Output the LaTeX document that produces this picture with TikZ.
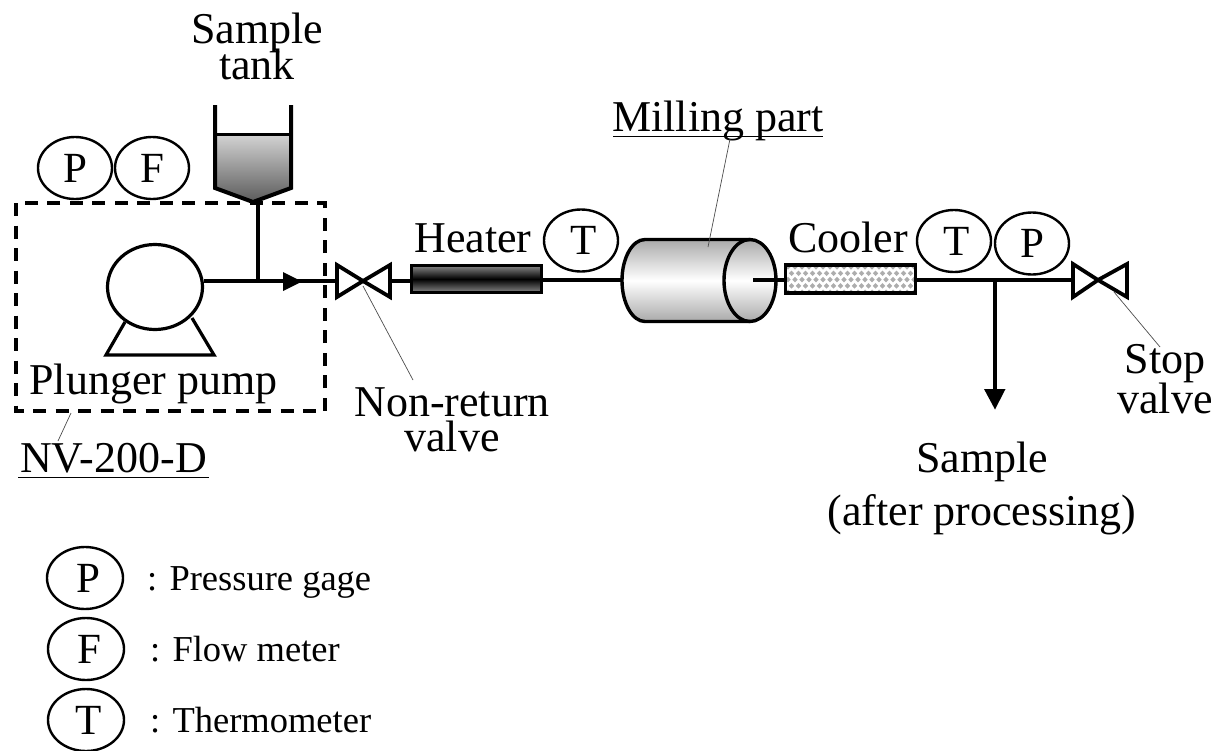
\documentclass[tikz,border=0pt]{standalone}
\usepackage{fontspec}
\setmainfont{Liberation Serif}
\usetikzlibrary{shapes.geometric,arrows.meta,calc}
\newcommand{\lowered}[1]{\raisebox{-3pt}{#1}}
\newcommand{\shifted}[1]{\kern6pt\raisebox{-3pt}{#1}}
\tikzset{
  x=1pt,y=-1pt,
  gauge/.style={draw,ellipse,line width=2.4pt,inner sep=0pt,minimum width=74pt,minimum height=62pt,font=\fontsize{43}{43}\selectfont},
  pipe/.style={line width=3.4pt},
  valveshape/.style={draw,line width=3.8pt,miter limit=10,fill=white},
  lead/.style={line width=0.7pt,draw=black!70},
  lab/.style={inner sep=0pt,align=center,font=\fontsize{44}{35}\selectfont},
  leg/.style={inner sep=0pt,anchor=base west,font=\fontsize{36.5}{36.5}\selectfont},
  unit/.style={draw,line width=3.4pt,inner sep=0pt,minimum height=27pt},
}
\begin{document}
\begin{tikzpicture}
\useasboundingbox (0,0) rectangle (1216,750);
% dashed package frame
\draw[line width=3.4pt,dash pattern=on 13pt off 9.5pt] (16,203) rectangle (325,411);
% sample tank
\shade[top color=black!17,bottom color=black!65] (213,134) -- (292,134) -- (292,188) -- (253,203) -- (213,188) -- cycle;
\draw[line width=4pt,line join=miter] (215,105) -- (215,188) -- (253,202) -- (291,188) -- (291,105);
\draw[line width=3pt] (215,134) -- (291,134);
\coordinate (tankout) at (258,202);
\coordinate (tee1) at (258,281);
\coordinate (pipeend) at (338,281);
% pump
\node[draw,ellipse,line width=3.2pt,inner sep=0pt,minimum width=95pt,minimum height=85pt] (pump) at (155,287) {};
\draw[line width=3.2pt,line join=miter] (125,322) -- (106,355) -- (214,355) -- (192,318);
\draw[pipe] (pump.east |- tee1) -- (tee1) -- (pipeend);
\draw[pipe] (tankout) -- (tee1);
\fill (283,272) -- (302,281.5) -- (283,291) -- cycle;
% non-return valve
\coordinate (v1l) at (337,281);
\coordinate (v1c) at (363,281);
\coordinate (v1r) at (390,281);
\draw[valveshape] (v1c) -- (337,265) -- (337,297) -- cycle;
\draw[valveshape] (v1c) -- (390,265) -- (390,297) -- cycle;
% heater
\shade[top color=black!45,bottom color=black!45,middle color=black] (411,265) rectangle (542,293);
\node[unit,minimum width=130pt] (heater) at (476.5,279) {};
\draw[pipe] (v1r) -- (heater.west |- v1r);
% T gauge
\node[gauge] (t1) at (581,240.5) {\shifted{T}};
% milling cylinder
\shade[top color=black!33,bottom color=black!33,middle color=white]
  (645,240) -- (750,240) .. controls (764,240) and (775,258) .. (775,281) .. controls (775,304) and (764,321) .. (750,321) -- (645,321)
  .. controls (632.3,321) and (622,303) .. (622,281) .. controls (622,258) and (632.3,240) .. (645,240) -- cycle;
\draw[line width=3.4pt] (750,239.5) -- (645,239.5) .. controls (632.3,239.5) and (622,258) .. (622,280.5) .. controls (622,303) and (632.3,321.5) .. (645,321.5) -- (750,321.5);
\node[draw,ellipse,line width=3.4pt,inner sep=0pt,minimum width=52pt,minimum height=82pt] (mill) at (750,280.5) {};
\coordinate (millin) at (622,280);
\coordinate (millout) at (753,280);
\draw[pipe] (heater.east |- millin) -- (millin);
% cooler
\begin{scope}
\clip (785,265) rectangle (916,294);
\fill[white] (785,265) rectangle (916,294);
\foreach \i in {0,...,18}{\foreach \j in {0,...,4}{
  \fill[black!32] ({788+7*\i+(mod(\j,2))*3.5},{267+\j*6.3}) ++(-2.7,0) -- ++(2.7,-2.7) -- ++(2.7,2.7) -- ++(-2.7,2.7) -- cycle;
}}
\end{scope}
\node[unit,minimum width=130pt,minimum height=28pt] (cooler) at (850.5,279) {};
\draw[pipe] (millout) -- (cooler.west |- millout);
% outlet valve
\coordinate (v2l) at (1073,280);
\coordinate (v2c) at (1098,280);
\coordinate (v2r) at (1127,280);
\draw[pipe] (cooler.east |- v2l) -- (v2l);
\draw[valveshape] (v2c) -- (1073,264) -- (1073,297) -- cycle;
\draw[valveshape] (v2c) -- (1127,264) -- (1127,297) -- cycle;
% branch
\coordinate (tee2) at (995,280);
\coordinate (samp) at (995,409);
\draw[pipe] (tee2) -- (995,392);
\fill (984,389) -- (1005.5,389) -- (995,409.5) -- cycle;
% gauges
\node[gauge] (p1) at (75,168) {\lowered{P}};
\node[gauge] (f1) at (152,168) {\lowered{F}};
\node[gauge] (t2) at (954,241) {\shifted{T}};
\node[gauge] (p2) at (1032,243.5) {\lowered{P}};
% labels
\node[lab] (ltank) at (257,46) {Sample\\[-5pt]tank};
\node[lab,anchor=base] (lmill) at (718,131) {Milling part};
\draw[line width=1pt] (613,136.5) -- (823,136.5);
\node[lab,anchor=base] (lheat) at (473,252) {Heater};
\node[lab,anchor=base] (lcool) at (848,252) {Cooler};
\node[lab,anchor=base] (lpump) at (153.5,394) {Plunger pump};
\node[lab] (lnon) at (452,420) {Non-return\\valve};
\node[lab,font=\fontsize{44}{40}\selectfont] (lstop) at (1165,379) {Stop\\valve};
\node[lab,anchor=base] (lnv) at (113.5,472) {NV-200-D};
\draw[line width=1pt] (18,477.5) -- (209,477.5);
\node[lab,font=\fontsize{44}{53}\selectfont] (lsamp) at (982,488) {Sample\\(after processing)};
% leaders
\draw[lead] (v1c) ++(0,5) -- (413,380);
\draw[lead] (1114,292) -- (1160,347);
\draw[lead] (730,139) -- (708,247);
\draw[lead] (71,413) -- (58,441);
% legend
\node[gauge,minimum width=76pt] (kp) at (85,578) {\shifted{P}};
\node[gauge,minimum width=76pt] (kf) at (86,649) {\shifted{F}};
\node[gauge,minimum width=76pt] (kt) at (86,720) {\shifted{T}};
\node[leg] (kpl) at (147,590) {: Pressure gage};
\node[leg] (kfl) at (150,661) {: Flow meter};
\node[leg] (ktl) at (150,732) {: Thermometer};
\end{tikzpicture}
\end{document}
